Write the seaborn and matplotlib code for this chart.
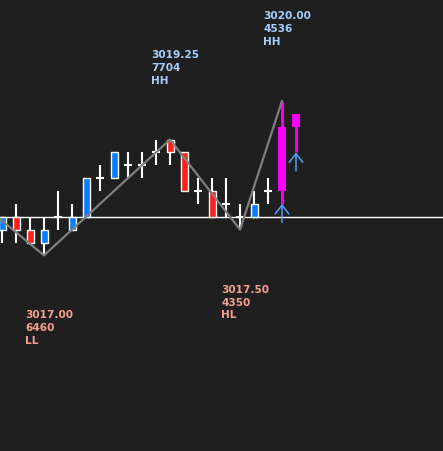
import matplotlib
matplotlib.use("Agg")
import matplotlib.pyplot as plt
import seaborn as sns
import numpy as np
import pandas as pd

# candle data (price in index points, one bar per slot)
opens = [3017.50, 3017.75, 3017.50, 3017.25, 3017.75, 3017.50, 3017.75, 3018.50, 3018.50, 3018.75, 3018.75,
         3019.00, 3019.25, 3019.00, 3018.25, 3018.25, 3018.00, 3017.75, 3017.75, 3018.25, 3018.25, 3019.75]
highs = [3017.75, 3018.00, 3017.75, 3017.75, 3018.25, 3018.00, 3018.50, 3018.75, 3019.00, 3019.00, 3019.00,
         3019.25, 3019.25, 3019.00, 3018.50, 3018.50, 3018.50, 3018.00, 3018.25, 3018.50, 3020.00, 3019.75]
lows = [3017.25, 3017.25, 3017.25, 3017.00, 3017.50, 3017.50, 3017.75, 3018.25, 3018.50, 3018.50, 3018.50,
        3018.75, 3018.75, 3018.25, 3018.00, 3017.75, 3017.75, 3017.50, 3017.75, 3018.00, 3018.00, 3019.00]
closes = [3017.75, 3017.50, 3017.25, 3017.50, 3017.75, 3017.75, 3018.50, 3018.50, 3019.00, 3018.75, 3018.75,
          3019.00, 3019.00, 3018.25, 3018.25, 3017.75, 3018.00, 3017.75, 3018.00, 3018.25, 3019.50, 3019.50]
signal_bars = [20, 21]

# zigzag pivots
zz_idx = [-1, 3, 12, 17, 20]
zz_price = [3017.90, 3017.00, 3019.25, 3017.50, 3020.00]
pivot_idx = [3, 12, 17, 20]
pivot_price = [3017.00, 3019.25, 3017.50, 3020.00]
pivot_vol = [6460, 7704, 4350, 4536]
pivot_tag = ["LL", "HH", "HL", "HH"]

ref_price = 3017.75

BG = "#1f1f1f"
UP = "#0a7cff"
DN = "#ff1f1f"
SIG = "#ff00ff"

sns.set_style("dark", {"axes.facecolor": BG, "figure.facecolor": BG})
plt.rcParams['font.family'] = ['DejaVu Sans']

fig = plt.figure(figsize=(4.43, 4.52), dpi=100)
ax = fig.add_axes([0, 0, 1, 1])
ax.set_facecolor(BG)

ax.axhline(ref_price, color="white", lw=1.0, zorder=1)

n = len(opens)
for i in range(n):
    o, h, l, c = opens[i], highs[i], lows[i], closes[i]
    if i in signal_bars:
        ax.vlines(i, l, h, color=SIG, lw=2.0, zorder=2)
        ax.bar(i, abs(c - o), bottom=min(o, c), width=0.55, color=SIG, edgecolor=SIG, lw=0, zorder=3)
        continue
    ax.vlines(i, l, h, color="white", lw=1.5, zorder=2)
    if o == c:
        ax.hlines(o, i - 0.29, i + 0.29, color="white", lw=1.5, zorder=2)
    else:
        col = UP if c > o else DN
        ax.bar(i, abs(c - o), bottom=min(o, c), width=0.5, color=col, edgecolor="white", lw=1.0, zorder=3)

# signal arrows under the magenta bars
for i in signal_bars:
    ax.annotate("", xy=(i, lows[i]), xytext=(i, lows[i] - 0.36),
                arrowprops=dict(arrowstyle="->,head_length=0.45,head_width=0.35", color="#4da3ff",
                                lw=1.1, mutation_scale=14, shrinkA=0, shrinkB=0), zorder=4)

zz = pd.DataFrame({"idx": zz_idx, "price": zz_price})
sns.lineplot(data=zz, x="idx", y="price", color="#7f7f7f", lw=1.6, ax=ax, zorder=5)

for i, p, v, t in zip(pivot_idx, pivot_price, pivot_vol, pivot_tag):
    txt = f"{p:.2f}\n{v}\n{t}"
    if t.endswith("H"):
        ax.annotate(txt, xy=(i, p), xytext=(-19, 55), textcoords="offset pixels",
                    ha="left", va="bottom", color="#a3d0ff", fontsize=7.6, fontweight="bold",
                    linespacing=1.36)
    else:
        ax.annotate(txt, xy=(i, p), xytext=(-19, -54), textcoords="offset pixels",
                    ha="left", va="top", color="#f7a08f", fontsize=7.6, fontweight="bold",
                    linespacing=1.36)

ax.set_xlim(-0.143, 31.5)
ax.set_ylim(3013.20, 3021.98)
ax.set_axis_off()

fig.savefig("out.png", dpi=100, facecolor=BG)
